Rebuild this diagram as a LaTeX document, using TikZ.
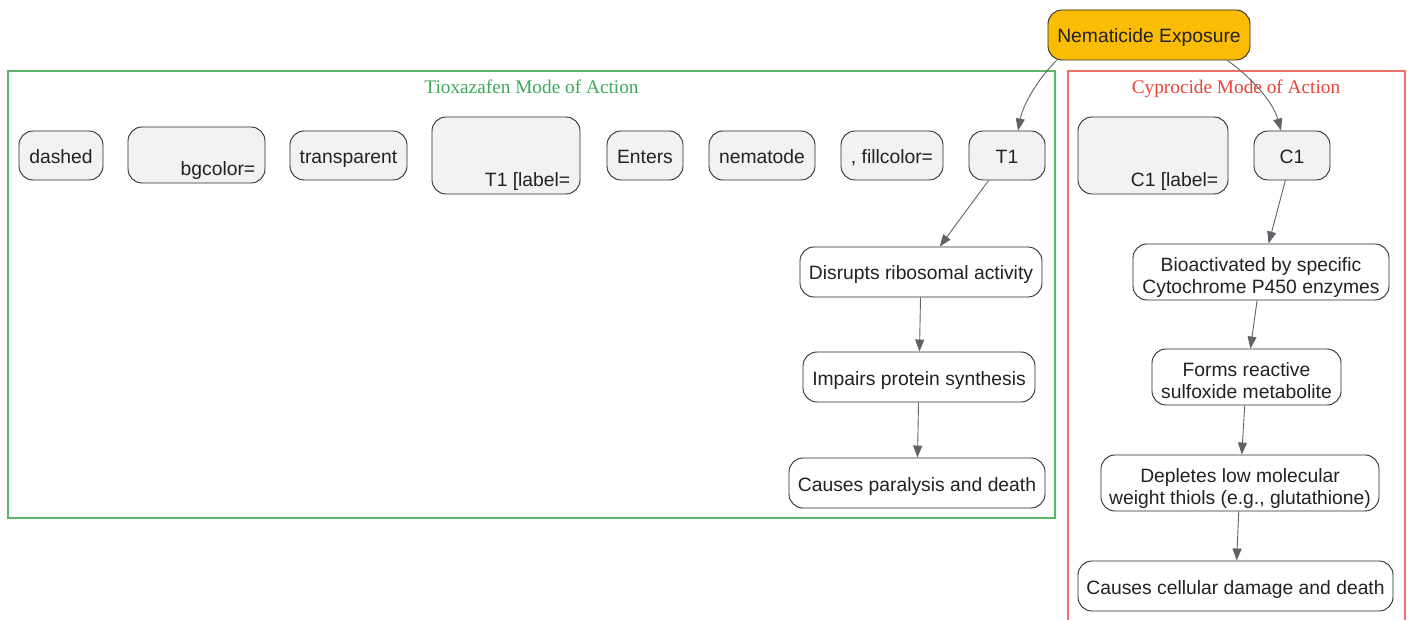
\documentclass[tikz,border=0pt]{standalone}
\usepackage{fontspec}
\setmainfont{Liberation Serif}
\newfontfamily\sff{Liberation Sans}
\usetikzlibrary{arrows.meta}
\definecolor{linec}{HTML}{2B2B2B}
\definecolor{textc}{HTML}{222222}
\definecolor{grayfill}{HTML}{F1F2F4}
\definecolor{orangefill}{HTML}{FABC05}
\definecolor{edgec}{HTML}{5F6368}
\definecolor{greenline}{HTML}{5CB56A}
\definecolor{greentext}{HTML}{3DAA55}
\definecolor{redline}{HTML}{F0706A}
\definecolor{redtext}{HTML}{EA4335}
\tikzset{
  box/.style={draw=linec, line width=0.9pt, rounded corners=14pt, inner sep=0pt,
    align=center, text=textc, font=\sff\fontsize{19.3}{22}\selectfont,
    text height=18pt, text depth=2pt},
  twoline/.style={text height=44.5pt, text depth=2pt},
  graybox/.style={box, fill=grayfill},
  whitebox/.style={box, fill=white},
  sz/.style 2 args={minimum width=#1pt, minimum height=#2pt},
  inlabel/.style={anchor=base east, inner sep=0pt, text=textc, font=\sff\fontsize{19.3}{22}\selectfont},
  edge/.style={draw=edgec, line width=0.9pt, -{Triangle[length=12pt,width=9pt]}},
  cltitle/.style={font=\fontsize{19.3}{22}\selectfont, inner sep=0pt, anchor=base}
}
\begin{document}
\begin{tikzpicture}[x=1pt,y=-1pt]
\useasboundingbox (0,0) rectangle (1409,620);
% clusters
\draw[greenline, line width=1.1pt] (8,71) rectangle (1055,518);
\node[cltitle, text=greentext] (tgreen) at (531.5,94) {Tioxazafen Mode of Action};
\draw[redline, line width=1.1pt] (1068,625) -- (1068,71) -- (1405,71) -- (1405,625);
\node[cltitle, text=redtext] (tred) at (1236,94) {Cyprocide Mode of Action};
% top node
\node[box, fill=orangefill, sz={202}{50}] (ne) at (1149,35) {Nematicide Exposure};
% gray row
\node[graybox, sz={84}{49}] (g1) at (61,155.5) {dashed};
\node[graybox, sz={137}{56}] (g2) at (196.5,155) {};
\node[inlabel] (g2t) at ([xshift=-10pt,yshift=8pt]g2.south east) {bgcolor=};
\node[graybox, sz={117}{49}] (g3) at (348.5,155.5) {transparent};
\node[graybox, sz={148}{77}] (g4) at (506,155.5) {};
\node[inlabel] (g4t) at ([xshift=-10pt,yshift=8pt]g4.south east) {T1 [label=};
\node[graybox, sz={76}{49}] (g5) at (645,155.5) {Enters};
\node[graybox, sz={106}{49}] (g6) at (762,155.5) {nematode};
\node[graybox, sz={102}{49}] (g7) at (892,155.5) {, fillcolor=};
\node[graybox, sz={76}{49}] (t1) at (1007,155.5) {T1};
\node[graybox, sz={150}{77}] (g8) at (1153,155.5) {};
\node[inlabel] (g8t) at ([xshift=-10pt,yshift=8pt]g8.south east) {C1 [label=};
\node[graybox, sz={76}{49}] (c1) at (1292,155.5) {C1};
% tioxazafen chain
\node[whitebox, sz={242}{50}] (d1) at (921,272) {Disrupts ribosomal activity};
\node[whitebox, sz={232}{50}] (d2) at (919,377) {Impairs protein synthesis};
\node[whitebox, sz={256}{50}] (d3) at (917,483) {Causes paralysis and death};
% cyprocide chain
\node[whitebox, twoline, sz={256}{56}] (e1) at (1261,272) {Bioactivated by specific\\Cytochrome P450 enzymes};
\node[whitebox, twoline, sz={189}{56}] (e2) at (1246.5,377) {Forms reactive\\sulfoxide metabolite};
\node[whitebox, twoline, sz={278}{56}] (e3) at (1240,483) {Depletes low molecular\\weight thiols (e.g., glutathione)};
\node[whitebox, sz={315}{50}] (e4) at (1235.5,586) {Causes cellular damage and death};
% edges
\draw[edge] ([xshift=9pt]ne.south west) .. controls (1037,80) and (1023,105) .. ([xshift=11pt]t1.north);
\draw[edge] ([xshift=-23pt]ne.south east) .. controls (1252,78) and (1273,102) .. ([xshift=-11pt]c1.north);
\draw[edge] (t1) -- (d1);
\draw[edge] (d1) -- (d2);
\draw[edge] (d2) -- (d3);
\draw[edge] (c1) -- (e1);
\draw[edge] (e1) -- (e2);
\draw[edge] (e2) -- (e3);
\draw[edge] (e3) -- (e4);
\end{tikzpicture}
\end{document}
